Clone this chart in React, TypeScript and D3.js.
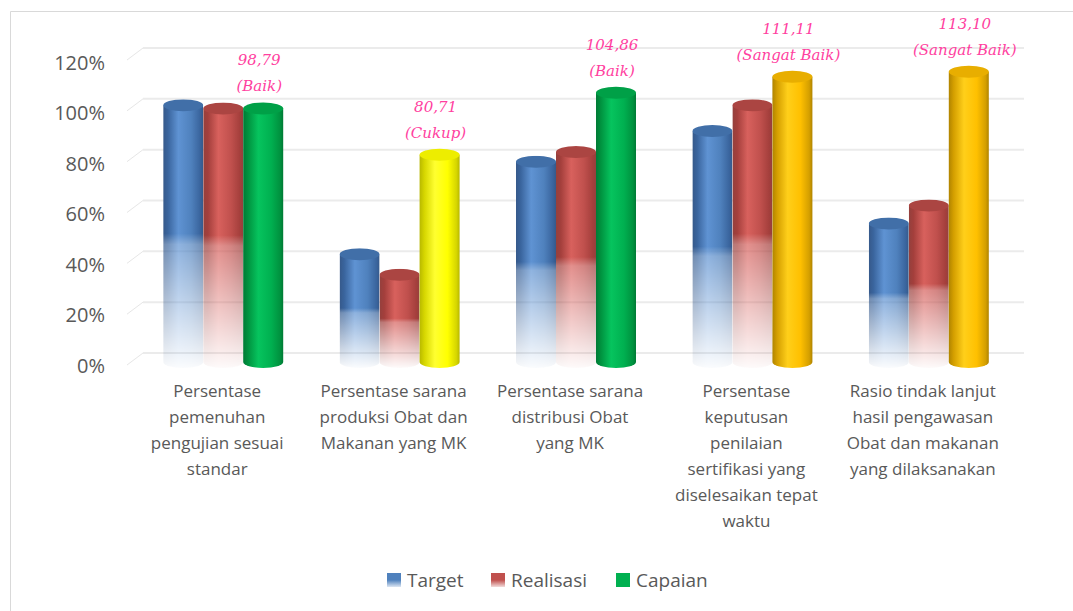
import React from "react";
import * as d3 from "d3";

const categories: string[][] = [
  ["Persentase", "pemenuhan", "pengujian sesuai", "standar"],
  ["Persentase sarana", "produksi Obat dan", "Makanan yang MK"],
  ["Persentase sarana", "distribusi Obat", "yang MK"],
  ["Persentase", "keputusan", "penilaian", "sertifikasi yang", "diselesaikan tepat", "waktu"],
  ["Rasio tindak lanjut", "hasil pengawasan", "Obat dan makanan", "yang dilaksanakan"],
];
const target = [100, 42, 78, 90, 54];
const realisasi = [98.79, 34, 81.8, 100, 61];
const capaian = [98.79, 80.71, 104.86, 111.11, 113.1];
const capaianLabels = ["98,79", "80,71", "104,86", "111,11", "113,10"];
const statusLabels = ["Baik", "Cukup", "Baik", "Sangat Baik", "Sangat Baik"];
const yTicks = [0, 20, 40, 60, 80, 100, 120];
const seriesNames = ["Target", "Realisasi", "Capaian"];

const W = 1073;
const H = 611;

const statusPalette: Record<string, string> = {
  Baik: "green",
  Cukup: "yellow",
  "Sangat Baik": "gold",
};

const shades: Record<string, { dark: string; light: string; mid: string; edge: string; top: string }> = {
  blue: { dark: "#3a659e", light: "#5f93d3", mid: "#4f81bd", edge: "#36598a", top: "#416fa8" },
  red: { dark: "#a43f3c", light: "#d8615d", mid: "#c0504d", edge: "#94403d", top: "#ab4542" },
  green: { dark: "#00923f", light: "#06c45e", mid: "#00b050", edge: "#007a35", top: "#00a047" },
  yellow: { dark: "#d6d600", light: "#ffff30", mid: "#ffff00", edge: "#b8b800", top: "#eded00" },
  gold: { dark: "#d49f00", light: "#ffcf1a", mid: "#ffc000", edge: "#b08400", top: "#e8ae00" },
};

export default function App() {
  const ids = categories.map((_, i) => String(i));
  const x = d3.scaleBand<string>().domain(ids).range([135, 1017]).padding(0);
  const yFront = d3.scaleLinear().domain([0, 120]).range([362, 54]);
  const yBack = d3.scaleLinear().domain([0, 120]).range([353, 48]);
  const yLabel = d3.scaleLinear().domain([0, 120]).range([365, 62]);
  const barW = 40;
  const ry = 6;
  const gridLeft = 143;
  const gridRight = 1024;

  const bars: { key: string; cx: number; v: number; color: string; fade: boolean }[] = [];
  ids.forEach((id, i) => {
    const c = (x(id) as number) + x.bandwidth() / 2;
    bars.push({ key: `t${i}`, cx: c - barW, v: target[i], color: "blue", fade: true });
    bars.push({ key: `r${i}`, cx: c, v: realisasi[i], color: "red", fade: true });
    bars.push({ key: `c${i}`, cx: c + barW, v: capaian[i], color: statusPalette[statusLabels[i]], fade: false });
  });

  const legendColors = ["blue", "red", "green"];
  const legendX = [387, 491, 616];

  return (
    <svg
      width={W}
      height={H}
      style={{ position: "absolute", left: 0, top: 0, background: "#fff" }}
      fontFamily="'Open Sans', Carlito, sans-serif"
    >
      <defs>
        {Object.entries(shades).map(([k, s]) => (
          <linearGradient key={k} id={`h-${k}`} x1="0" x2="1" y1="0" y2="0">
            <stop offset="0" stopColor={s.edge} />
            <stop offset="0.12" stopColor={s.dark} />
            <stop offset="0.38" stopColor={s.light} />
            <stop offset="0.7" stopColor={s.mid} />
            <stop offset="0.92" stopColor={s.dark} />
            <stop offset="1" stopColor={s.edge} />
          </linearGradient>
        ))}
        <linearGradient id="vfade" x1="0" x2="0" y1="0" y2="1">
          <stop offset="0" stopColor="#fff" stopOpacity={1} />
          <stop offset="0.5" stopColor="#fff" stopOpacity={1} />
          <stop offset="0.54" stopColor="#fff" stopOpacity={0.7} />
          <stop offset="1" stopColor="#fff" stopOpacity={0.03} />
        </linearGradient>
        <mask id="fade" maskContentUnits="objectBoundingBox">
          <rect x="0" y="0" width="1" height="1" fill="url(#vfade)" />
        </mask>
        <linearGradient id="lg-blue" x1="0" x2="0" y1="0" y2="1">
          <stop offset="0" stopColor="#4f81bd" />
          <stop offset="0.5" stopColor="#4f81bd" />
          <stop offset="1" stopColor="#dce6f2" />
        </linearGradient>
        <linearGradient id="lg-red" x1="0" x2="0" y1="0" y2="1">
          <stop offset="0" stopColor="#c0504d" />
          <stop offset="0.5" stopColor="#c0504d" />
          <stop offset="1" stopColor="#f2dcdb" />
        </linearGradient>
        <linearGradient id="lg-green" x1="0" x2="0" y1="0" y2="1">
          <stop offset="0" stopColor="#00b050" />
          <stop offset="1" stopColor="#00b050" />
        </linearGradient>
      </defs>

      <line x1={10.5} x2={W} y1={11.5} y2={11.5} stroke="#d9d9d9" />
      <line x1={10.5} x2={10.5} y1={11.5} y2={H} stroke="#d9d9d9" />

      {/* gridlines */}
      {yTicks.map((t) => (
        <g key={t}>
          <line x1={gridLeft} x2={gridRight} y1={yBack(t)} y2={yBack(t)} stroke="#ebebeb" strokeWidth={2} />
          <line x1={gridLeft - 16} x2={gridLeft} y1={yBack(t) + 12} y2={yBack(t)} stroke="#e6e6e6" strokeWidth={1} />
          <text
            x={105}
            y={yLabel(t)}
            textAnchor="end"
            dominantBaseline="central"
            fontSize={20}
            fill="#595959"
          >
            {t}%
          </text>
        </g>
      ))}

      {/* bars */}
      {bars.map((b) => {
        const top = yFront(b.v);
        const bottom = yFront(0);
        const s = shades[b.color];
        return (
          <g key={b.key} mask={b.fade ? "url(#fade)" : undefined}>
            <path
              d={`M${b.cx - barW / 2},${top} L${b.cx - barW / 2},${bottom} A${barW / 2},${ry} 0 0 0 ${b.cx + barW / 2},${bottom} L${b.cx + barW / 2},${top} Z`}
              fill={`url(#h-${b.color})`}
            />
            <ellipse cx={b.cx} cy={top} rx={barW / 2} ry={ry} fill={s.top} />
          </g>
        );
      })}

      {/* capaian annotations */}
      {ids.map((id, i) => {
        const cx = (x(id) as number) + x.bandwidth() / 2 + barW - 4;
        const top = yFront(capaian[i]);
        return (
          <g
            key={`a${i}`}
            fill="#ff3fa0"
            fontFamily="'DejaVu Serif', serif"
            fontStyle="italic"
            fontSize={15}
            textAnchor="middle"
          >
            <text x={cx} y={top - 48} dominantBaseline="central">
              {capaianLabels[i]}
            </text>
            <text x={cx} y={top - 22} dominantBaseline="central">
              ({statusLabels[i]})
            </text>
          </g>
        );
      })}

      {/* category labels */}
      {ids.map((id, i) => {
        const cx = (x(id) as number) + x.bandwidth() / 2 - 6;
        return (
          <text key={`c${i}`} x={cx} textAnchor="middle" fontSize={17} fill="#595959">
            {categories[i].map((line, j) => (
              <tspan key={j} x={cx} y={390 + j * 26} dominantBaseline="central">
                {line}
              </tspan>
            ))}
          </text>
        );
      })}

      {/* legend */}
      {seriesNames.map((n, i) => (
        <g key={n}>
          <rect x={legendX[i]} y={573} width={14} height={14} fill={`url(#lg-${legendColors[i]})`} />
          <text x={legendX[i] + 20} y={580} dominantBaseline="central" fontSize={19} fill="#595959">
            {n}
          </text>
        </g>
      ))}
    </svg>
  );
}
